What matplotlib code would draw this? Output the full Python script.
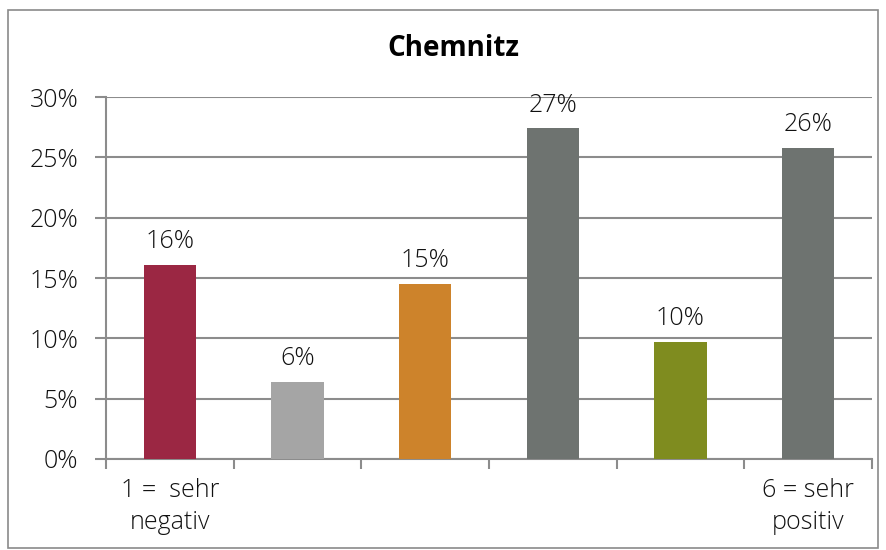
import numpy as np
import matplotlib.pyplot as plt
from matplotlib.patches import Rectangle

plt.rcParams['font.family'] = ['Open Sans', 'DejaVu Sans']

categories = ["1 =  sehr\nnegativ", "", "", "", "", "6 = sehr\npositiv"]
values = [16.1, 6.4, 14.5, 27.4, 9.7, 25.8]
labels = ["16%", "6%", "15%", "27%", "10%", "26%"]
colors = ["#9B2743", "#A5A5A5", "#CD832B", "#6E7370", "#7F8C1F", "#6E7370"]
yticks = [0, 5, 10, 15, 20, 25, 30]

fs = 18
fig = plt.figure(figsize=(8.87, 5.5), dpi=100)
ax = fig.add_axes([0.1195, 0.1655, 0.8635, 0.658])

# outer frame
fig.patches.append(Rectangle((8/887, 2/550), 870/887, 538/550, transform=fig.transFigure,
                             fill=False, edgecolor="#8a8a8a", linewidth=1.2))

x = np.arange(len(values))
ax.bar(x, values, width=0.41, color=colors, zorder=3)
for xi, v, l in zip(x, values, labels):
    ax.text(xi, v + 0.9, l, ha="center", va="bottom", fontsize=fs,
            fontweight="light", color="#111111")

ax.set_xlim(-0.5, 5.5)
ax.set_ylim(0, 30)
ax.set_yticks(yticks)
ax.set_yticklabels(["%d%%" % t for t in yticks], fontsize=fs, fontweight="light", color="#111111")
ax.yaxis.grid(True, color="#8c8c8c", linewidth=1.5, zorder=0)
ax.tick_params(axis="y", length=8, width=1.5, color="#8c8c8c", pad=12)

ax.set_xticks(x)
ax.set_xticklabels(categories, fontsize=fs, fontweight="light", color="#111111", linespacing=1.35)
ax.set_xticks(np.arange(-0.5, 6, 1), minor=True)
ax.tick_params(axis="x", which="major", length=0, pad=14)
ax.tick_params(axis="x", which="minor", length=7, width=1.5, color="#8c8c8c")

for s in ["top", "right"]:
    ax.spines[s].set_visible(False)
for s in ["left", "bottom"]:
    ax.spines[s].set_color("#8c8c8c")
    ax.spines[s].set_linewidth(1.5)

fig.text(0.511, 0.912, "Chemnitz", ha="center", va="center", fontsize=20, fontweight="bold")

fig.savefig("out.png", dpi=100)
